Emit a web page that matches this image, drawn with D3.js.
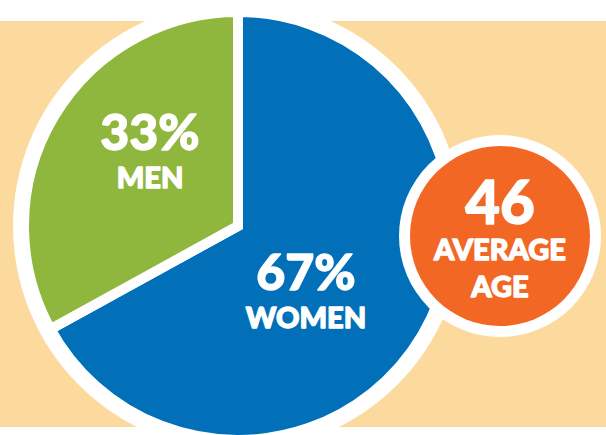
<!DOCTYPE html>
<meta charset="utf-8">
<style>
  body {
    margin: 0;
    background-color: white;
  }

  svg {
    display: block;
  }

  .label {
    fill: #fff;
    stroke: #fff;
    stroke-width: 1.3px;
    stroke-linejoin: round;
    font-family: "Lato", "Open Sans", sans-serif;
    font-weight: 900;
    text-anchor: middle;
  }
</style>

<body>
  <div id="chart"></div>

  <script src="https://cdn.jsdelivr.net/npm/d3@7"></script>

  <script>
    // share of respondents by gender, plus the average age badge
    var categories = ["WOMEN", "MEN"];
    var shares = [67, 33];
    var sliceColors = ["#0270b9", "#8fb73e"];
    var averageAge = 46;
    var ageLabels = ["AVERAGE", "AGE"];

    var width = 606,
      height = 435;

    var svg = d3.select("#chart").append("svg")
      .attr("width", width)
      .attr("height", height);

    // peach band behind everything
    svg.append("rect")
      .attr("x", 0)
      .attr("y", 21)
      .attr("width", width)
      .attr("height", 406)
      .attr("fill", "#fcd99d");

    var cx = 238, cy = 226, r = 214;

    var g = svg.append("g")
      .attr("transform", "translate(" + cx + "," + cy + ")");

    // white ring around the pie
    g.append("circle")
      .attr("r", r + 11)
      .attr("fill", "#fff");

    var pie = d3.pie().sort(null)(shares);
    var arc = d3.arc().innerRadius(0).outerRadius(r);

    g.selectAll("path")
      .data(pie)
      .enter().append("path")
      .attr("d", arc)
      .attr("fill", (d, i) => sliceColors[i])
      .attr("stroke", "#fff")
      .attr("stroke-width", 10)
      .attr("stroke-linejoin", "miter");

    // slice labels, offsets tuned by eye
    var labelPos = [{ x: 68, y: 64 }, { x: -88, y: -76 }];

    pie.forEach(function (d, i) {
      g.append("text")
        .attr("class", "label")
        .attr("x", labelPos[i].x)
        .attr("y", labelPos[i].y)
        .style("font-size", "50px")
        .text(shares[i] + "%");
      g.append("text")
        .attr("class", "label")
        .attr("x", labelPos[i].x)
        .attr("y", labelPos[i].y + 38)
        .style("font-size", "29px")
        .text(categories[i]);
    });

    // average age badge
    var badge = svg.append("g")
      .attr("transform", "translate(500,236)");

    badge.append("circle")
      .attr("r", 101)
      .attr("fill", "#fff");

    badge.append("circle")
      .attr("r", 90)
      .attr("fill", "#f26724");

    badge.append("text")
      .attr("class", "label")
      .attr("y", -12)
      .style("font-size", "60px")
      .text(averageAge);

    badge.selectAll(".sub")
      .data(ageLabels)
      .enter().append("text")
      .attr("class", "label sub")
      .attr("y", (d, i) => 24 + i * 37)
      .style("font-size", "29px")
      .text(d => d);
  </script>
</body>

</html>
